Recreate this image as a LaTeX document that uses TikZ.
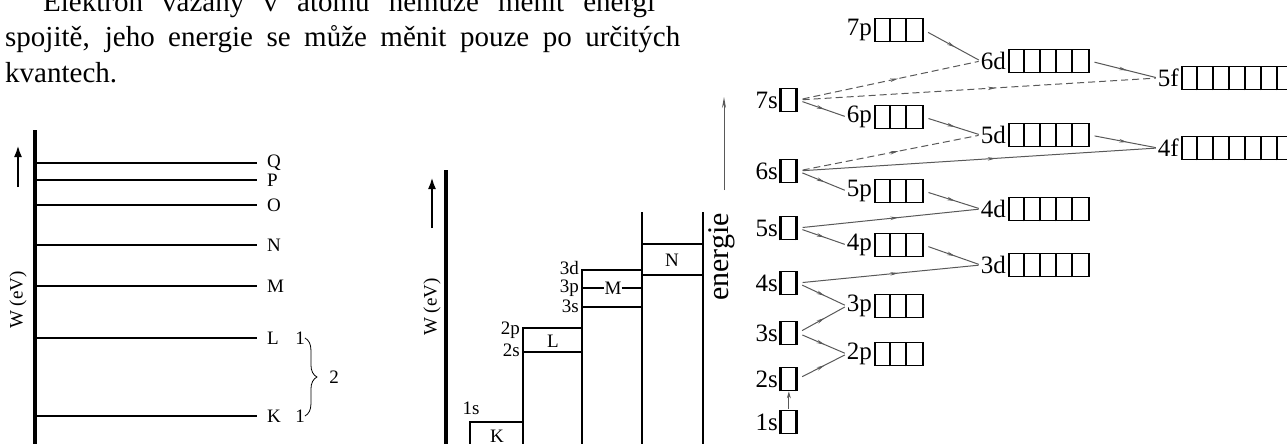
\documentclass[tikz,border=0pt]{standalone}
\usepackage{fontspec}
\setmainfont{Liberation Serif}
\usetikzlibrary{arrows.meta,positioning,decorations.markings,decorations.pathreplacing}

% orbital box: name, label, cells, x, y
\newcommand{\orbital}[5]{%
  \node[cellbox,minimum width=#3*16pt,anchor=west] (#1) at (#4,#5) {};
  \node[orblabel,left=2pt of #1] (#1l) {#2};
  \foreach \k in {2,...,#3}
    \draw[line width=1.7pt] ([xshift=\k*16pt-16pt]#1.south west) -- ([xshift=\k*16pt-16pt]#1.north west);
}

\begin{document}
\begin{tikzpicture}[
  x=1pt,y=-1pt,
  level/.style={line width=1.7pt},
  axis/.style={line width=3.5pt},
  uparrow/.style={line width=2.5pt,-{Latex[length=12pt,width=8pt]}},
  cellbox/.style={draw,line width=1.7pt,minimum height=23pt,inner sep=0pt},
  orblabel/.style={inner sep=0pt,font=\fontsize{25}{25}\selectfont},
  smalllbl/.style={inner sep=0pt,font=\fontsize{19}{19}\selectfont},
  midlbl/.style={inner sep=0pt,font=\fontsize{19}{19}\selectfont},
  flow/.style={draw=gray!70!black,line width=1pt,shorten <=5pt,shorten >=2pt,
    postaction={decorate},
    decoration={markings,mark=at position 0.55 with {\arrow{Stealth[length=8pt,width=3.5pt]}}}},
  jump/.style={flow,dash pattern=on 7pt off 4pt}
]
  \useasboundingbox (0,0) rectangle (1287,444);

  % text above
  \node[anchor=base west,inner sep=0pt,font=\fontsize{29}{35}\selectfont] (line1) at (43,12)
    {\makebox[612pt][s]{Elektron vázaný v atomu nemůže měnit energi}};
  \node[anchor=base west,inner sep=0pt,font=\fontsize{29}{35}\selectfont] (line2) at (5,47)
    {\makebox[675pt][s]{spojitě, jeho energie se může měnit pouze po určitých}};
  \node[anchor=base west,inner sep=0pt,font=\fontsize{29}{35}\selectfont] (line3) at (5,82) {kvantech.};

  % shells
  \draw[axis] (35,130) -- (35,450);
  \coordinate (wlow) at (18,187);
  \coordinate (whigh) at (18,145);
  \draw[uparrow] (wlow) -- (whigh);
  \node[smalllbl,rotate=90] (wev) at (18,300) {W (eV)};
  \foreach \y/\t in {163/Q,180/P,205/O,245/N,286/M,338/L,416/K} {
    \draw[level] (35,\y) -- (257,\y);
    \node[smalllbl,anchor=west] (sh\t) at (267,\y) {\t};
  }
  \node[smalllbl] (oneL) at (300,338) {1};
  \node[smalllbl] (oneK) at (300,416) {1};
  \draw[line width=0.8pt,decorate,decoration={brace,amplitude=12pt}] (oneL.east) -- (oneK.east);
  \node[smalllbl] (two) at (334,377) {2};

  % subshells
  \draw[axis] (446,170) -- (446,450);
  \coordinate (vlow) at (432,228);
  \coordinate (vhigh) at (432,177);
  \draw[uparrow] (vlow) -- (vhigh);
  \node[midlbl,rotate=90] (wev2) at (432,307) {W (eV)};
  \draw[level] (470,450) -- (470,422) -- (523,422);
  \draw[level] (523,450) -- (523,328) -- (582,328);
  \draw[level] (523,352) -- (582,352);
  \draw[level] (582,450) -- (582,270) -- (642,270);
  \draw[level] (582,307) -- (642,307);
  \draw[level] (642,450) -- (642,212);
  \draw[level] (703,450) -- (703,212);
  \draw[level] (642,244) -- (703,244);
  \draw[level] (642,275) -- (703,275);
  \node[midlbl] (lK) at (497,436) {K};
  \node[midlbl] (lL) at (553,341) {L};
  \node[midlbl] (lM) at (613,288) {M};
  \node[midlbl] (lN) at (672,260) {N};
  \draw[level] (582,288) -- (lM.west);
  \draw[level] (lM.east) -- (642,288);
  \node[midlbl] (l1s) at (471,408) {1s};
  \node[midlbl,anchor=east] (l2p) at (520,330) {2p};
  \node[midlbl,anchor=east] (l2s) at (520,350) {2s};
  \node[midlbl,anchor=east] (l3d) at (579,268) {3d};
  \node[midlbl,anchor=east] (l3p) at (579,288) {3p};
  \node[midlbl,anchor=east] (l3s) at (579,306) {3s};

  % energy order
  \node[rotate=90,inner sep=0pt,font=\fontsize{30}{30}\selectfont] (energie) at (722,257) {energie};
  \coordinate (elow) at (724,190);
  \coordinate (ehigh) at (724,97);
  \draw[line width=1pt,gray!70!black,-{Stealth[length=11pt,width=4pt]}] (elow) -- (ehigh);

  \orbital{s7}{7s}{1}{780}{100}
  \orbital{s6}{6s}{1}{780}{171}
  \orbital{s5}{5s}{1}{780}{228}
  \orbital{s4}{4s}{1}{780}{283}
  \orbital{s3}{3s}{1}{780}{333}
  \orbital{s2}{2s}{1}{780}{379}
  \orbital{s1}{1s}{1}{780}{422}
  \orbital{p7}{7p}{3}{874}{30}
  \orbital{p6}{6p}{3}{874}{117}
  \orbital{p5}{5p}{3}{874}{191}
  \orbital{p4}{4p}{3}{874}{245}
  \orbital{p3}{3p}{3}{874}{306}
  \orbital{p2}{2p}{3}{874}{354}
  \orbital{d6}{6d}{5}{1008}{61}
  \orbital{d5}{5d}{5}{1008}{135}
  \orbital{d4}{4d}{5}{1008}{209}
  \orbital{d3}{3d}{5}{1008}{265}
  \orbital{f5}{5f}{7}{1181}{78}
  \orbital{f4}{4f}{7}{1181}{148}

  \draw[draw=gray!70!black,line width=1pt,shorten <=1pt,-{Stealth[length=7pt,width=4pt]}] (s1.north) -- (s2.south);
  \draw[flow] (s2.east) -- (p2l.west);
  \draw[flow] (s3.east) -- (p2l.west);
  \draw[flow] (s3.east) -- (p3l.west);
  \draw[flow] (s4.east) -- (p3l.west);
  \draw[flow] (s4.east) -- (d3l.west);
  \draw[flow] (p4.east) -- (d3l.west);
  \draw[flow] (s5.east) -- (p4l.west);
  \draw[flow] (s5.east) -- (d4l.west);
  \draw[flow] (p5.east) -- (d4l.west);
  \draw[flow] (s6.east) -- (p5l.west);
  \draw[flow] (s6.east) -- (f4l.west);
  \draw[jump] (s6.east) -- (d5l.west);
  \draw[flow] (p6.east) -- (d5l.west);
  \draw[flow] (d5.east) -- (f4l.west);
  \draw[flow] (s7.east) -- (p6l.west);
  \draw[jump] (s7.east) -- (d6l.west);
  \draw[jump] (s7.east) -- (f5l.west);
  \draw[flow] (d6.east) -- (f5l.west);
  \draw[flow] (p7.east) -- (d6l.west);
\end{tikzpicture}
\end{document}
